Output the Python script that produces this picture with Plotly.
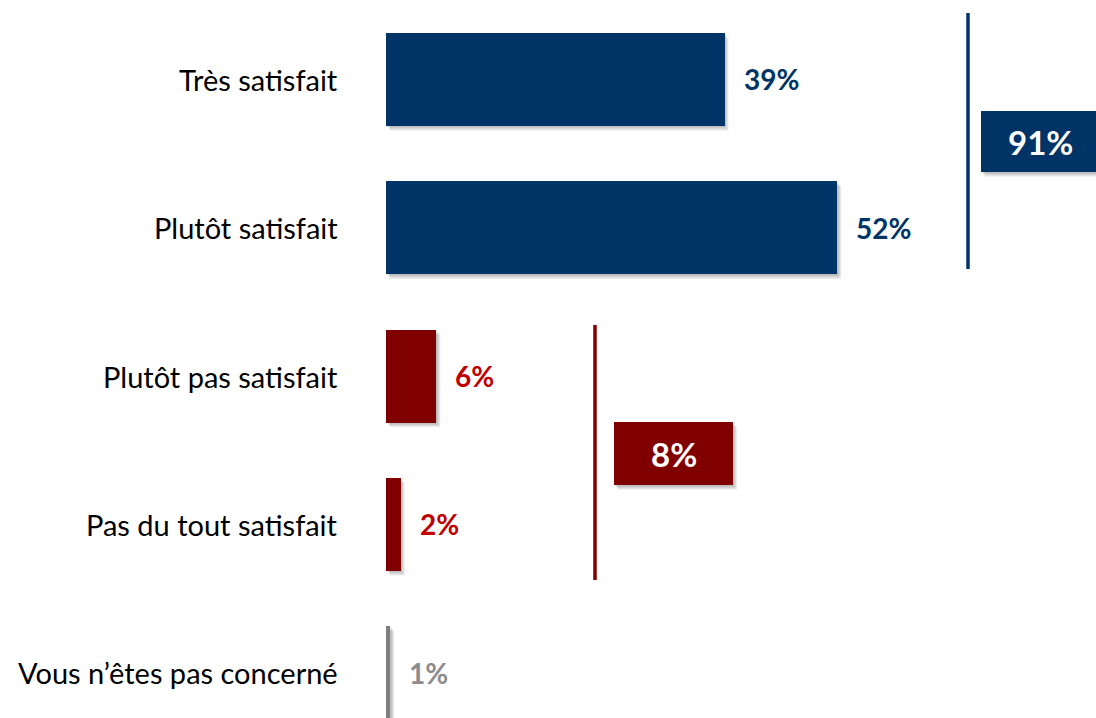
import plotly.graph_objects as go

# ---- data ----
categories = ["Très satisfait", "Plutôt satisfait", "Plutôt pas satisfait",
              "Pas du tout satisfait", "Vous n’êtes pas concerné"]
bar_values = [39, 52, 5.8, 1.7, 0.5]
value_labels = ["39%", "52%", "6%", "2%", "1%"]
group_labels = ["91%", "8%"]
group_members = [[0, 1], [2, 3]]

# ---- styles ----
bar_colors = ["#003366", "#003366", "#800000", "#800000", "#7F7F7F"]
label_colors = ["#003366", "#003366", "#C00000", "#C00000", "#8C8C8C"]
group_colors = ["#003366", "#800000"]
FONT = "Lato, Roboto, sans-serif"

W, H = 1096, 718
LEFT = 386                # pixel of x = 0
PX_PER_UNIT_X = 8.68
ROW0, ROW_STEP = 79.4, 148.3
BAR_W = 93 / ROW_STEP

def px_x(p):
    return (p - LEFT) / PX_PER_UNIT_X

def px_y(p):
    return (p - ROW0) / ROW_STEP

ypos = list(range(len(categories)))
xmax = (W - LEFT) / PX_PER_UNIT_X

fig = go.Figure()
fig.add_trace(go.Bar(
    x=bar_values, y=ypos, orientation="h", width=BAR_W,
    marker=dict(color=bar_colors, line=dict(width=0)),
    hoverinfo="skip",
))

shapes = []
annotations = []

def shadow(x0, x1, y0, y1):
    out = []
    for k in range(1, 5):
        dx = k * 1.0 / PX_PER_UNIT_X
        dy = k * 1.2 / ROW_STEP
        out.append(dict(type="rect", xref="x", yref="y",
                        x0=x0 + dx, x1=x1 + dx, y0=y0 + dy, y1=y1 + dy,
                        fillcolor="rgba(0,0,0,0.07)", line=dict(width=0),
                        layer="below"))
    return out

for i, v in enumerate(bar_values):
    shapes += shadow(0, v, i - BAR_W / 2, i + BAR_W / 2)
    annotations.append(dict(x=0, y=i, xref="x", yref="y", text=categories[i],
                            showarrow=False, xanchor="right", yanchor="middle",
                            xshift=-46, font=dict(family=FONT, size=29, color="#000000")))
    annotations.append(dict(x=v, y=i, xref="x", yref="y",
                            text="<b>%s</b>" % value_labels[i],
                            showarrow=False, xanchor="left", yanchor="middle",
                            xshift=17, font=dict(family=FONT, size=28, color=label_colors[i])))

# group brackets and total boxes (pixel layout)
group_layout = [
    dict(line_x=968, line_y=(13, 269), box_x=(981, 1100), box_y=(111, 172)),
    dict(line_x=595, line_y=(325, 580), box_x=(614, 733), box_y=(422, 485)),
]
for g, lay in enumerate(group_layout):
    c = group_colors[g]
    shapes.append(dict(type="line", xref="x", yref="y",
                       x0=px_x(lay["line_x"]), x1=px_x(lay["line_x"]),
                       y0=px_y(lay["line_y"][0]), y1=px_y(lay["line_y"][1]),
                       line=dict(color=c, width=3.5)))
    bx0, bx1 = px_x(lay["box_x"][0]), px_x(lay["box_x"][1])
    by0, by1 = px_y(lay["box_y"][0]), px_y(lay["box_y"][1])
    shapes += shadow(bx0, bx1, by0, by1)
    shapes.append(dict(type="rect", xref="x", yref="y", x0=bx0, x1=bx1, y0=by0, y1=by1,
                       fillcolor=c, line=dict(width=0), layer="above"))
    annotations.append(dict(x=(bx0 + bx1) / 2, y=(by0 + by1) / 2, xref="x", yref="y",
                            text="<b>%s</b>" % group_labels[g], showarrow=False,
                            xanchor="center", yanchor="middle",
                            font=dict(family=FONT, size=33, color="#FFFFFF")))

fig.update_layout(
    width=W, height=H,
    margin=dict(l=LEFT, r=0, t=0, b=0, pad=0),
    paper_bgcolor="white", plot_bgcolor="white",
    showlegend=False,
    xaxis=dict(range=[0, xmax], visible=False, fixedrange=True),
    yaxis=dict(range=[px_y(H), px_y(0)], visible=False, fixedrange=True),
    shapes=shapes, annotations=annotations,
    bargap=0,
)
fig.write_html("out.html", config={"displayModeBar": False},
               post_script="document.body.style.margin='0';document.body.style.overflow='hidden';")
